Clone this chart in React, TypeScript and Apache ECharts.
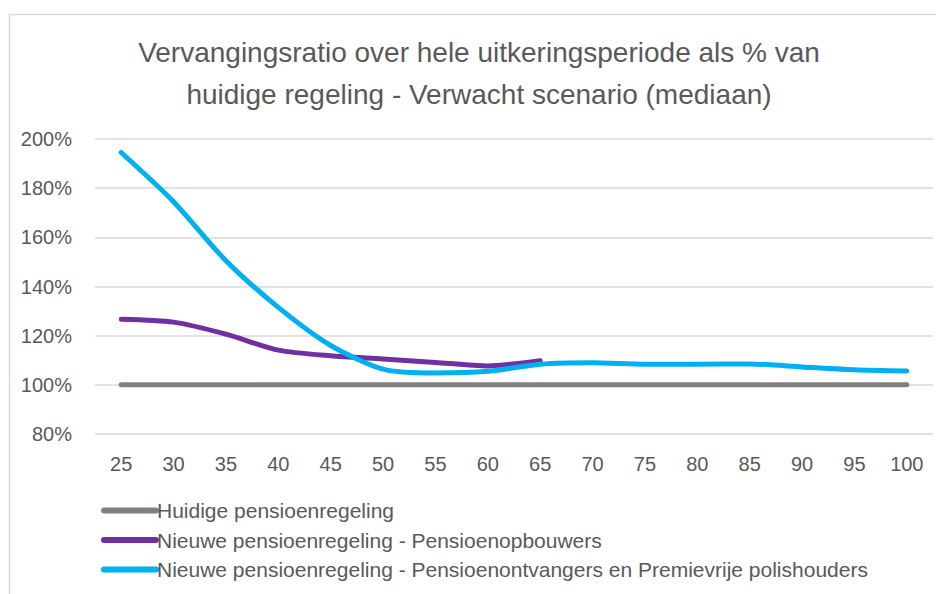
import React, { useEffect, useRef } from "react";
import * as echarts from "echarts";

const TITLE = "Vervangingsratio over hele uitkeringsperiode als % van\nhuidige regeling - Verwacht scenario (mediaan)";
const ages = ["25", "30", "35", "40", "45", "50", "55", "60", "65", "70", "75", "80", "85", "90", "95", "100"];
const huidige = [100, 100, 100, 100, 100, 100, 100, 100, 100, 100, 100, 100, 100, 100, 100, 100];
const opbouwers = [126.7, 125.5, 120.6, 114.1, 111.8, 110.5, 109.1, 107.7, 109.8];
const ontvangers = [194.5, 174.5, 150.5, 131.5, 116, 106.4, 104.8, 105.5, 108.4, 109, 108.4, 108.4, 108.5, 107.3, 106.1, 105.6];
const names = [
  "Huidige pensioenregeling",
  "Nieuwe pensioenregeling - Pensioenopbouwers",
  "Nieuwe pensioenregeling - Pensioenontvangers en Premievrije polishouders",
];
const colors = ["#808080", "#7030a0", "#00b0f0"];

export default function App() {
  const ref = useRef<HTMLDivElement>(null);
  useEffect(() => {
    const chart = echarts.init(ref.current!, null, { renderer: "svg" });
    const mk = (i: number, data: number[]) => ({
      name: names[i],
      type: "line",
      data,
      smooth: 0.25,
      symbol: "none",
      lineStyle: { width: 5, color: colors[i], cap: "round", join: "round" },
      itemStyle: { color: colors[i] },
      z: 3 + i,
    });
    chart.setOption({
      animation: false,
      textStyle: { fontFamily: "Liberation Sans, Arial, sans-serif" },
      title: {
        text: TITLE,
        left: 474,
        top: 26,
        textAlign: "center",
        textStyle: {
          fontFamily: "Liberation Sans, Arial, sans-serif",
          fontSize: 28,
          fontWeight: "normal",
          color: "#595959",
          lineHeight: 42,
        },
      },
      graphic: [
        {
          type: "rect",
          shape: { x: 9.5, y: 14.5, width: 1000, height: 700 },
          style: { fill: "none", stroke: "#d9d9d9", lineWidth: 1.5 },
          silent: true,
        },
      ],
      grid: { left: 95, right: 3, top: 139, bottom: 160 },
      xAxis: {
        type: "category",
        data: ages,
        boundaryGap: true,
        axisLine: { show: false },
        axisTick: { show: false },
        axisLabel: { color: "#595959", fontSize: 20, margin: 20 },
      },
      yAxis: {
        type: "value",
        min: 80,
        max: 200,
        interval: 20,
        axisLabel: { color: "#595959", fontSize: 20, margin: 23, formatter: "{value}%" },
        splitLine: { lineStyle: { color: "#d9d9d9", width: 1.5 } },
        axisLine: { show: false },
        axisTick: { show: false },
      },
      legend: {
        orient: "vertical",
        left: 96,
        top: 495,
        itemWidth: 58,
        itemHeight: 6,
        itemGap: 8.5,
        icon: "path://M3,0 L55,0 A3,3 0 0 1 55,6 L3,6 A3,3 0 0 1 3,0 Z",
        textStyle: { color: "#595959", fontSize: 21, lineHeight: 21, padding: [0, 0, 0, -7] },
        data: names,
      },
      series: [mk(0, huidige), mk(1, opbouwers), mk(2, ontvangers)],
    });
    return () => chart.dispose();
  }, []);
  return (
    <div
      ref={ref}
      style={{ position: "fixed", left: 0, top: 0, width: 936, height: 594, background: "#fff" }}
    />
  );
}
